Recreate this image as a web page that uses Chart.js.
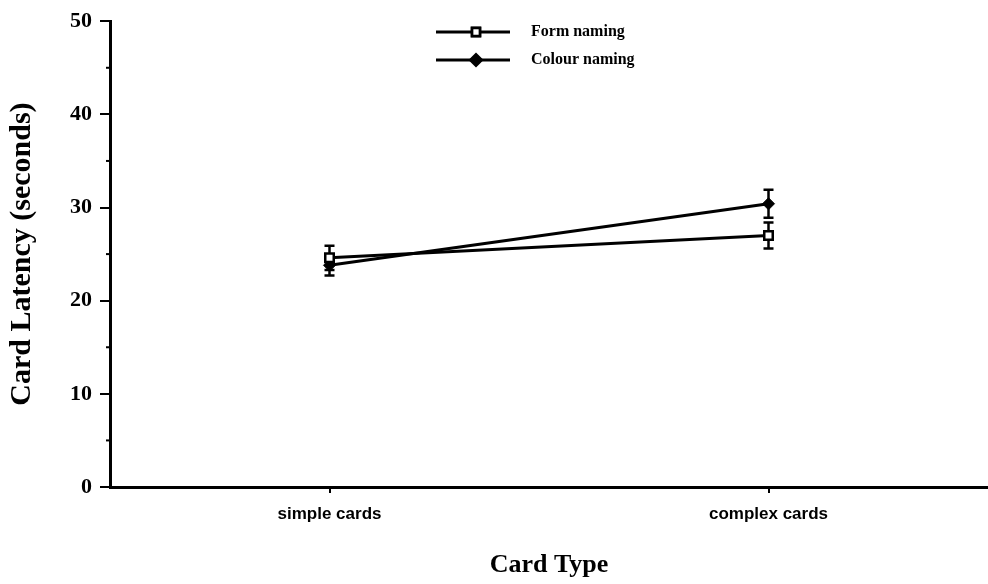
<!DOCTYPE html>
<html>
<head>
<meta charset="utf-8">
<script src="https://cdn.jsdelivr.net/npm/chart.js@4"></script>
<style>
  html, body { margin: 0; padding: 0; background: #fff; }
</style>
</head>
<body>
<canvas id="latencyChart" width="988" height="584"></canvas>
<script>
// Data
const categories = ['simple cards', 'complex cards'];
const formNaming = [24.6, 27.0];
const colourNaming = [23.8, 30.4];
const formError = [1.3, 1.4];
const colourError = [1.1, 1.5];
const minorTicks = [5, 15, 25, 35, 45];

const serif = '"Liberation Serif", "Times New Roman", serif';
const sans = '"Liberation Sans", Arial, sans-serif';

// Error bars drawn under the markers
const errorBars = {
  id: 'errorBars',
  beforeDatasetsDraw(chart) {
    const ctx = chart.ctx;
    const x = chart.scales.x, y = chart.scales.y;
    chart.data.datasets.forEach((ds) => {
      ds.errors.forEach((e, i) => {
        const px = x.getPixelForValue(i);
        const top = y.getPixelForValue(ds.data[i] + e);
        const bot = y.getPixelForValue(ds.data[i] - e);
        ctx.save();
        ctx.strokeStyle = '#000';
        ctx.lineWidth = 2.5;
        ctx.beginPath();
        ctx.moveTo(px, top); ctx.lineTo(px, bot);
        ctx.moveTo(px - 5, top); ctx.lineTo(px + 5, top);
        ctx.moveTo(px - 5, bot); ctx.lineTo(px + 5, bot);
        ctx.stroke();
        ctx.restore();
      });
    });
  }
};

// Small minor ticks on the y axis
const minorTickMarks = {
  id: 'minorTickMarks',
  afterDraw(chart) {
    const ctx = chart.ctx;
    const y = chart.scales.y;
    const left = chart.chartArea.left;
    ctx.save();
    ctx.strokeStyle = '#000';
    ctx.lineWidth = 2;
    minorTicks.forEach((v) => {
      const py = y.getPixelForValue(v);
      ctx.beginPath();
      ctx.moveTo(left - 4, py); ctx.lineTo(left, py);
      ctx.stroke();
    });
    ctx.restore();
  }
};

// Legend: line with marker, then label
const lineLegend = {
  id: 'lineLegend',
  afterDraw(chart) {
    const ctx = chart.ctx;
    const rows = [32, 60];
    chart.data.datasets.forEach((ds, i) => {
      const ly = rows[i];
      ctx.save();
      ctx.strokeStyle = '#000';
      ctx.lineWidth = 3;
      ctx.beginPath();
      ctx.moveTo(436, ly); ctx.lineTo(510, ly);
      ctx.stroke();
      Chart.helpers.drawPoint(ctx, {
        pointStyle: ds.pointStyle,
        radius: ds.pointRadius - 0.5,
        borderWidth: ds.pointBorderWidth
      }, 476, ly);
      ctx.fillStyle = ds.pointBackgroundColor;
      ctx.strokeStyle = '#000';
      ctx.lineWidth = ds.pointBorderWidth;
      ctx.fill();
      ctx.stroke();
      ctx.fillStyle = '#000';
      ctx.font = 'bold 16px ' + serif;
      ctx.textBaseline = 'middle';
      ctx.fillText(ds.label, 531, ly);
      ctx.restore();
    });
  }
};

new Chart(document.getElementById('latencyChart'), {
  type: 'line',
  data: {
    labels: categories,
    datasets: [
      {
        label: 'Form naming',
        data: formNaming,
        errors: formError,
        borderColor: '#000',
        borderWidth: 3,
        pointStyle: 'rect',
        pointRadius: 6,
        pointBackgroundColor: '#fff',
        pointBorderColor: '#000',
        pointBorderWidth: 2.5
      },
      {
        label: 'Colour naming',
        data: colourNaming,
        errors: colourError,
        borderColor: '#000',
        borderWidth: 3,
        pointStyle: 'rectRot',
        pointRadius: 6,
        pointBackgroundColor: '#000',
        pointBorderColor: '#000',
        pointBorderWidth: 1
      }
    ]
  },
  options: {
    responsive: false,
    devicePixelRatio: 1,
    animation: false,
    layout: { autoPadding: false, padding: { top: 8, right: 0, left: 0, bottom: 0 } },
    plugins: {
      legend: { display: false },
      tooltip: { enabled: false }
    },
    scales: {
      x: {
        type: 'category',
        offset: true,
        afterFit(scale) { scale.height = 97; },
        grid: { drawOnChartArea: false, color: '#000', tickLength: 6, lineWidth: 2 },
        border: { color: '#000', width: 3 },
        ticks: { color: '#000', font: { family: sans, size: 17, weight: 'bold' }, padding: 11 },
        title: {
          display: true,
          text: 'Card Type',
          color: '#000',
          font: { family: serif, size: 26, weight: 'bold' },
          padding: { top: 0, bottom: 3 }
        }
      },
      y: {
        min: 0,
        max: 50,
        afterFit(scale) { scale.width = 110; },
        grid: { drawOnChartArea: false, color: '#000', tickLength: 10, lineWidth: 2 },
        border: { color: '#000', width: 3 },
        ticks: { stepSize: 10, color: '#000', font: { family: serif, size: 22, weight: 'bold' }, padding: 8 },
        title: {
          display: true,
          text: 'Card Latency (seconds)',
          color: '#000',
          font: { family: serif, size: 30, weight: 'bold' },
          padding: { top: 4, bottom: 0 }
        }
      }
    }
  },
  plugins: [errorBars, minorTickMarks, lineLegend]
});
</script>
</body>
</html>
